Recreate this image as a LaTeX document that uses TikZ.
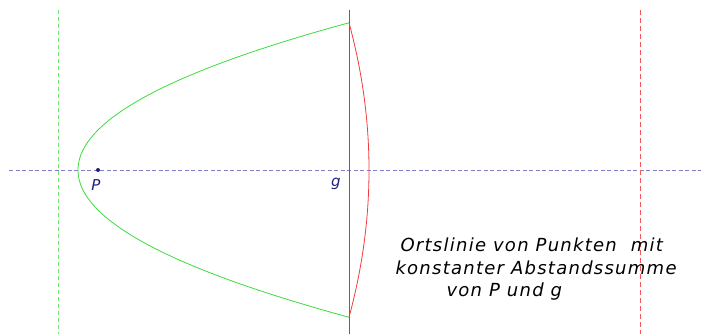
\documentclass[tikz,border=0pt]{standalone}
\usepackage{fontspec}
\setmainfont{DejaVu Sans}
\newfontfamily\handfont[LetterSpace=7]{DejaVu Sans Oblique}
\definecolor{axisblue}{RGB}{128,128,200}
\definecolor{gblue}{RGB}{90,90,190}
\definecolor{lgreen}{RGB}{110,230,110}
\definecolor{cgreen}{RGB}{60,220,60}
\definecolor{lred}{RGB}{245,90,90}
\definecolor{cred}{RGB}{240,60,60}
\definecolor{navy}{RGB}{30,30,130}
\begin{document}
\begin{tikzpicture}[x=1pt,y=-1pt,
  axisline/.style={draw=axisblue, line width=0.9pt, dash pattern=on 4pt off 2.5pt},
  dirgreen/.style={draw=lgreen, line width=0.8pt, dash pattern=on 4pt off 3pt},
  dirred/.style={draw=lred, line width=0.8pt, dash pattern=on 5pt off 3pt},
  gline/.style={draw=gblue, line width=1pt},
  greencurve/.style={draw=cgreen, line width=0.8pt},
  redcurve/.style={draw=cred, line width=0.8pt},
  ptlabel/.style={text=navy, font=\handfont\fontsize{15}{15}\selectfont},
  caption/.style={anchor=west, text=black, font=\handfont\fontsize{18}{18}\selectfont}]
\useasboundingbox (0,0) rectangle (701,334);
% reference lines
\coordinate (axL) at (9,170);
\coordinate (axR) at (701,170);
\coordinate (dgT) at (58,10);
\coordinate (dgB) at (58,334);
\coordinate (drT) at (640,10);
\coordinate (drB) at (640,334);
\coordinate (gT) at (349,10);
\coordinate (gB) at (349,334);
\draw[axisline] (axL) -- (axR);
\draw[dirgreen] (dgT) -- (dgB);
\draw[dirred] (drT) -- (drB);
\draw[gline] (gT) -- (gB);
% curves
\draw[greencurve] plot[domain=22.8:317.2, samples=120, variable=\t] ({78+((\t-170)/8.9443)^2},{\t});
\draw[redcurve] plot[domain=22.8:317.2, samples=120, variable=\t] ({369-((\t-170)/32.924)^2},{\t});
% point P
\coordinate (P) at (98,170);
\fill[navy] (P) circle (2pt);
\node[ptlabel] (Plabel) at (96,185) {P};
\node[ptlabel] (glabel) at (336,184) {g};
% caption
\node[caption] (c1) at (397,245) {Ortslinie von Punkten\ \ mit};
\node[caption] (c2) at (392,268) {konstanter Abstandssumme};
\node[caption] (c3) at (443,292) {von P und g};
\end{tikzpicture}
\end{document}
